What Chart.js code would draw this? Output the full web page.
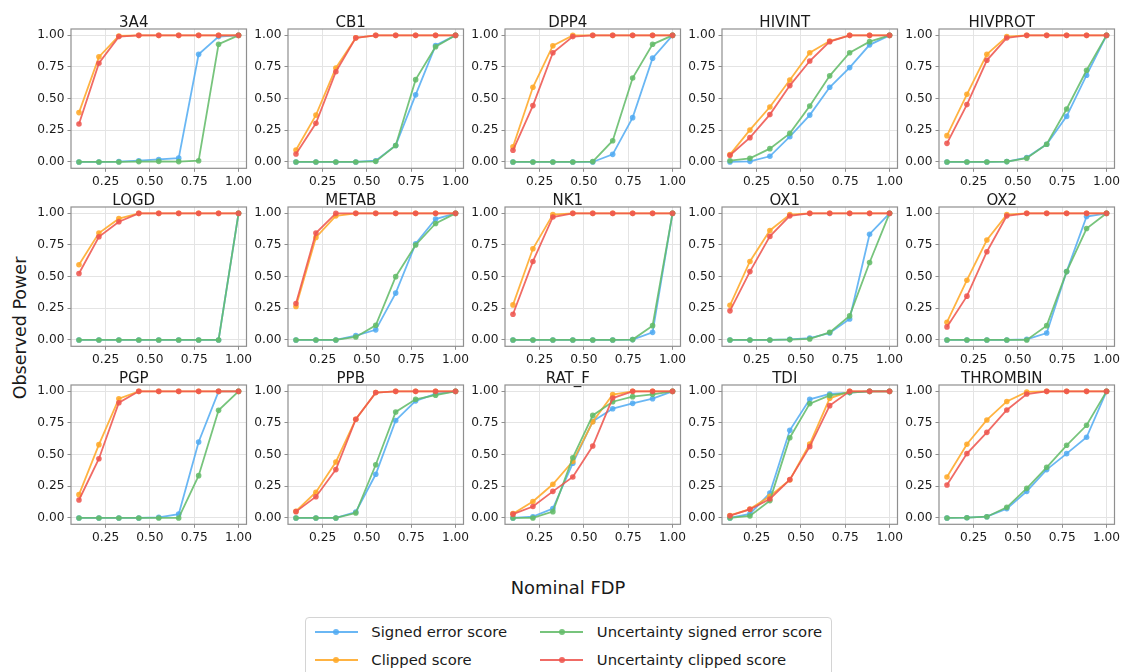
<!DOCTYPE html>
<html>
<head>
<meta charset="utf-8">
<script src="https://cdn.jsdelivr.net/npm/chart.js@4.4.1/dist/chart.umd.min.js"></script>
<style>
  html, body { margin: 0; padding: 0; background: #fff; width: 1124px; height: 672px; overflow: hidden; }
  body { position: relative; font-family: "DejaVu Sans", sans-serif; color: #1a1a1a; }
  canvas { position: absolute; }
  .lbl { position: absolute; white-space: nowrap; font-family: "DejaVu Sans", sans-serif; color: #1a1a1a; }
  #legend { position: absolute; left: 305px; top: 617px; width: 527px; height: 70px; border: 1px solid #d4d4d4; border-radius: 4px; background: #fff; box-sizing: border-box; }
  .item { position: absolute; height: 20px; font-size: 14.8px; line-height: 20px; white-space: nowrap; }
  .swatch { position: absolute; top: 9px; width: 43px; height: 2px; }
  .dot { position: absolute; top: -2px; left: 18.5px; width: 6px; height: 6px; border-radius: 50%; }
</style>
</head>
<body>
<div class="lbl" id="ylabel" style="left:20px;top:328px;font-size:17.5px;transform:translate(-50%,-50%) rotate(-90deg);">Observed Power</div>
<div class="lbl" id="xlabel" style="left:568px;top:587px;font-size:17.9px;transform:translate(-50%,-50%);">Nominal FDP</div>
<div id="legend"></div>
<script>
// ---------------- data ----------------
const nominalFDP = [0.1, 0.2125, 0.325, 0.4375, 0.55, 0.6625, 0.775, 0.8875, 1.0];
const panelNames = ["3A4", "CB1", "DPP4", "HIVINT", "HIVPROT", "LOGD", "METAB", "NK1", "OX1", "OX2", "PGP", "PPB", "RAT_F", "TDI", "THROMBIN"];
const seriesNames = ["Signed error score", "Clipped score", "Uncertainty signed error score", "Uncertainty clipped score"];
const xTicks = [0.25, 0.5, 0.75, 1.0];
const yTicks = [0, 0.25, 0.5, 0.75, 1.0];

const signedError = [
  [0, 0, 0.003, 0.01, 0.02, 0.03, 0.85, 0.99, 1.0],
  [0, 0, 0, 0, 0.01, 0.13, 0.53, 0.92, 1.0],
  [0, 0, 0, 0, 0, 0.06, 0.35, 0.82, 1.0],
  [0, 0.005, 0.045, 0.20, 0.37, 0.59, 0.745, 0.925, 1.0],
  [0, 0, 0, 0.003, 0.035, 0.14, 0.36, 0.685, 1.0],
  [0, 0, 0, 0, 0, 0, 0, 0, 1.0],
  [0, 0, 0, 0.034, 0.08, 0.37, 0.76, 0.955, 1.0],
  [0, 0, 0, 0, 0, 0, 0.003, 0.06, 1.0],
  [0, 0, 0, 0.005, 0.015, 0.055, 0.165, 0.835, 1.0],
  [0, 0, 0, 0, 0.005, 0.055, 0.54, 0.975, 1.0],
  [0, 0, 0, 0, 0.005, 0.03, 0.60, 1.0, 1.0],
  [0, 0, 0, 0.047, 0.345, 0.77, 0.925, 0.98, 1.0],
  [0, 0.01, 0.074, 0.432, 0.763, 0.863, 0.905, 0.942, 1.0],
  [0, 0.032, 0.197, 0.692, 0.937, 0.979, 0.99, 1.0, 1.0],
  [0, 0.002, 0.01, 0.074, 0.21, 0.382, 0.508, 0.637, 1.0]
];
const clippedScore = [
  [0.39, 0.83, 0.995, 1, 1, 1, 1, 1, 1],
  [0.095, 0.37, 0.742, 0.98, 1, 1, 1, 1, 1],
  [0.12, 0.59, 0.918, 1, 1, 1, 1, 1, 1],
  [0.058, 0.253, 0.434, 0.647, 0.863, 0.955, 1, 1, 1],
  [0.208, 0.534, 0.85, 0.99, 1, 1, 1, 1, 1],
  [0.594, 0.844, 0.958, 1, 1, 1, 1, 1, 1],
  [0.264, 0.81, 0.98, 1, 1, 1, 1, 1, 1],
  [0.277, 0.72, 0.99, 1, 1, 1, 1, 1, 1],
  [0.274, 0.62, 0.865, 0.99, 1, 1, 1, 1, 1],
  [0.14, 0.472, 0.789, 0.99, 1, 1, 1, 1, 1],
  [0.184, 0.579, 0.942, 1, 1, 1, 1, 1, 1],
  [0.053, 0.203, 0.442, 0.779, 0.99, 1, 1, 1, 1],
  [0.034, 0.13, 0.266, 0.447, 0.76, 0.974, 1, 1, 1],
  [0.02, 0.07, 0.171, 0.30, 0.584, 0.945, 1, 1, 1],
  [0.324, 0.582, 0.774, 0.92, 0.995, 1, 1, 1, 1]
];
const uncSignedError = [
  [0, 0, 0, 0.003, 0.005, 0.003, 0.01, 0.93, 1],
  [0, 0, 0, 0, 0.005, 0.13, 0.65, 0.91, 1],
  [0, 0, 0, 0, 0.003, 0.168, 0.663, 0.929, 1],
  [0.01, 0.029, 0.105, 0.226, 0.442, 0.68, 0.863, 0.95, 1],
  [0, 0, 0, 0.003, 0.03, 0.14, 0.418, 0.724, 1],
  [0, 0, 0, 0, 0, 0, 0, 0, 1],
  [0, 0, 0, 0.024, 0.116, 0.50, 0.75, 0.92, 1],
  [0, 0, 0, 0, 0, 0, 0.003, 0.113, 1],
  [0, 0, 0, 0.003, 0.008, 0.06, 0.19, 0.612, 1],
  [0, 0, 0, 0, 0, 0.113, 0.54, 0.88, 1],
  [0, 0, 0, 0, 0, 0, 0.334, 0.85, 1],
  [0, 0, 0, 0.039, 0.42, 0.837, 0.937, 0.97, 1],
  [0, 0, 0.05, 0.476, 0.81, 0.918, 0.958, 0.976, 1],
  [0, 0.016, 0.137, 0.634, 0.903, 0.968, 0.99, 1, 1],
  [0, 0.002, 0.01, 0.084, 0.234, 0.40, 0.574, 0.732, 1]
];
const uncClippedScore = [
  [0.30, 0.78, 0.99, 1, 1, 1, 1, 1, 1],
  [0.063, 0.305, 0.713, 0.98, 1, 1, 1, 1, 1],
  [0.092, 0.445, 0.863, 0.99, 1, 1, 1, 1, 1],
  [0.053, 0.192, 0.374, 0.603, 0.797, 0.95, 1, 1, 1],
  [0.147, 0.453, 0.803, 0.98, 1, 1, 1, 1, 1],
  [0.525, 0.815, 0.934, 1, 1, 1, 1, 1, 1],
  [0.288, 0.844, 1, 1, 1, 1, 1, 1, 1],
  [0.203, 0.62, 0.971, 1, 1, 1, 1, 1, 1],
  [0.23, 0.54, 0.818, 0.98, 1, 1, 1, 1, 1],
  [0.103, 0.346, 0.697, 0.98, 1, 1, 1, 1, 1],
  [0.142, 0.468, 0.91, 1, 1, 1, 1, 1, 1],
  [0.05, 0.168, 0.382, 0.78, 0.99, 1, 1, 1, 1],
  [0.03, 0.09, 0.21, 0.324, 0.568, 0.947, 1, 1, 1],
  [0.018, 0.068, 0.15, 0.303, 0.563, 0.887, 1, 1, 1],
  [0.26, 0.508, 0.676, 0.853, 0.979, 1, 1, 1, 1]
];

// ---------------- style ----------------
const colors = ["rgba(80,170,242,0.85)", "rgba(255,168,40,0.88)", "rgba(100,188,106,0.88)", "rgba(238,86,80,0.88)"];
const allSeries = [signedError, clippedScore, uncSignedError, uncClippedScore];
const FONT = "'DejaVu Sans', sans-serif";

const PLOT_W = 175.5, PLOT_H = 139.3;
const YW = 50, TH = 32, XH = 24, RP = 18;

const framePlugin = {
  id: 'frame',
  afterDraw(chart) {
    const a = chart.chartArea, ctx = chart.ctx;
    ctx.save();
    ctx.strokeStyle = '#8f8f8f';
    ctx.lineWidth = 1.2;
    ctx.strokeRect(a.left, a.top, a.right - a.left, a.bottom - a.top);
    ctx.restore();
  }
};

for (let p = 0; p < panelNames.length; p++) {
  const r = Math.floor(p / 5), c = p % 5;
  const plotLeft = 70.7 + 217 * c;
  const plotTop = 28.5 + 178 * r;
  const cv = document.createElement('canvas');
  const W = Math.round(YW + PLOT_W + RP), H = Math.round(TH + PLOT_H + XH);
  cv.width = W; cv.height = H;
  cv.style.width = W + 'px'; cv.style.height = H + 'px';
  cv.style.left = Math.round(plotLeft - YW) + 'px';
  cv.style.top = Math.round(plotTop - TH) + 'px';
  document.body.appendChild(cv);

  const datasets = allSeries.map((s, k) => ({
    label: seriesNames[k],
    data: nominalFDP.map((x, i) => ({ x: x, y: s[p][i] })),
    borderColor: colors[k],
    backgroundColor: colors[k],
    pointBackgroundColor: colors[k],
    pointBorderWidth: 0,
    pointRadius: 2.8,
    borderWidth: 1.8,
    tension: 0,
    order: 4 - k
  }));

  new Chart(cv, {
    type: 'line',
    data: { datasets },
    plugins: [framePlugin],
    options: {
      responsive: false,
      devicePixelRatio: 1,
      animation: false,
      events: [],
      layout: { padding: { left: 0, right: W - YW - PLOT_W, top: 0, bottom: H - TH - PLOT_H - XH } },
      plugins: {
        legend: { display: false },
        tooltip: { enabled: false },
        title: {
          display: true,
          text: panelNames[p],
          color: '#1a1a1a',
          font: { family: FONT, size: 15, weight: 'normal', lineHeight: 1 },
          padding: { top: 19, bottom: TH - 15 - 19 }
        }
      },
      scales: {
        x: {
          type: 'linear',
          min: 0.055, max: 1.045,
          afterBuildTicks: s => { s.ticks = xTicks.map(v => ({ value: v })); },
          afterFit: s => { s.height = XH; },
          ticks: {
            autoSkip: false, maxRotation: 0, padding: 3,
            color: '#1a1a1a',
            font: { family: FONT, size: 12.2 },
            callback: v => Number(v).toFixed(2)
          },
          grid: { color: '#e4e4e4', lineWidth: 1, tickLength: 3.5, tickColor: '#8f8f8f', tickWidth: 1 },
          border: { display: false }
        },
        y: {
          type: 'linear',
          min: -0.05, max: 1.05,
          afterBuildTicks: s => { s.ticks = yTicks.map(v => ({ value: v })); },
          afterFit: s => { s.width = YW; },
          ticks: {
            autoSkip: false, padding: 3,
            color: '#1a1a1a',
            font: { family: FONT, size: 12.2 },
            callback: v => Number(v).toFixed(2)
          },
          grid: { color: '#e4e4e4', lineWidth: 1, tickLength: 3.5, tickColor: '#8f8f8f', tickWidth: 1 },
          border: { display: false }
        }
      }
    }
  });
}

// ---------------- legend ----------------
const legend = document.getElementById('legend');
const legendPos = [
  { x: 8.8, y: 4.3 }, { x: 8.8, y: 31.5 },
  { x: 234.3, y: 4.3 }, { x: 234.3, y: 31.5 }
];
seriesNames.forEach((name, k) => {
  const it = document.createElement('div');
  it.className = 'item';
  it.style.left = legendPos[k].x + 'px';
  it.style.top = legendPos[k].y + 'px';
  const sw = document.createElement('div');
  sw.className = 'swatch';
  sw.style.background = colors[k];
  sw.style.left = '0px';
  const dot = document.createElement('div');
  dot.className = 'dot';
  dot.style.background = colors[k];
  sw.appendChild(dot);
  it.appendChild(sw);
  const tx = document.createElement('span');
  tx.textContent = name;
  tx.style.position = 'absolute';
  tx.style.left = '56.5px';
  it.appendChild(tx);
  legend.appendChild(it);
});
</script>
</body>
</html>
